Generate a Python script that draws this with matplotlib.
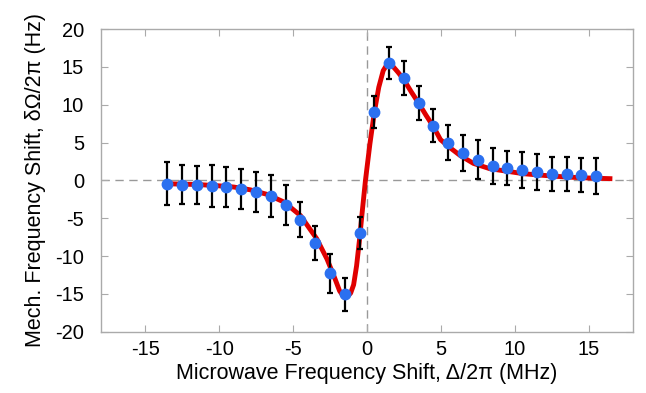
import matplotlib.pyplot as plt

plt.rcParams['font.family'] = ['Liberation Sans', 'DejaVu Sans']
plt.rcParams['axes.unicode_minus'] = False

# measured points
detuning = [-13.5, -12.5, -11.5, -10.5, -9.5, -8.5, -7.5, -6.5, -5.5, -4.5,
            -3.5, -2.5, -1.5, -0.5, 0.5, 1.5, 2.5, 3.5, 4.5, 5.5,
            6.5, 7.5, 8.5, 9.5, 10.5, 11.5, 12.5, 13.5, 14.5, 15.5]
shift = [-0.44, -0.57, -0.62, -0.75, -0.93, -1.15, -1.55, -2.1, -3.27, -5.2,
         -8.26, -12.3, -15.06, -7.0, 9.0, 15.5, 13.55, 10.24, 7.24, 5.0,
         3.63, 2.74, 1.95, 1.6, 1.33, 1.1, 0.84, 0.84, 0.7, 0.58]
shift_err = [2.83, 2.6, 2.54, 2.74, 2.65, 2.65, 2.65, 2.78, 2.65, 2.3,
             2.2, 2.6, 2.16, 2.1, 2.14, 2.1, 2.27, 2.3, 2.2, 2.3,
             2.4, 2.6, 2.37, 2.26, 2.37, 2.4, 2.3, 2.26, 2.26, 2.43]

# theory curve
fit_x = [-13.7, -12.0, -11.25, -10.0, -9.0, -7.9, -6.75, -5.6, -4.5, -3.4,
         -2.7, -2.2, -1.85, -1.55, -1.3, -1.1, -0.9, -0.7, -0.5, -0.3,
         -0.1, 0.2, 0.5, 0.8, 1.1, 1.4, 1.7, 2.1, 2.5, 3.0,
         3.5, 4.0, 4.5, 4.97, 5.5, 6.3, 7.2, 8.3, 9.5, 10.6,
         11.7, 12.85, 14.0, 15.1, 16.6]
fit_y = [-0.44, -0.52, -0.57, -0.72, -0.88, -1.24, -1.85, -2.87, -4.64, -7.7,
         -10.4, -12.8, -14.6, -15.45, -15.3, -14.9, -13.8, -11.3, -7.8, -3.8,
         0.0, 4.8, 9.0, 12.3, 14.5, 15.45, 15.2, 14.3, 13.3, 11.7,
         10.2, 8.6, 7.1, 5.4, 4.5, 3.3, 2.25, 1.55, 1.2, 0.88,
         0.7, 0.53, 0.4, 0.31, 0.22]


def plot_shift():
    fig = plt.figure(figsize=(6.46, 3.93), dpi=100)
    ax = fig.add_axes([0.156, 0.156, 0.824, 0.77])

    ax.axhline(0, color='#999999', lw=1, ls=(0, (6, 4)), zorder=1)
    ax.axvline(0, color='#999999', lw=1, ls=(0, (6, 4)), zorder=1)

    ax.plot(fit_x, fit_y, color='#e00000', lw=3.5, zorder=2,
            solid_joinstyle='round', solid_capstyle='butt')
    ax.errorbar(detuning, shift, yerr=shift_err, fmt='none', ecolor='black',
                elinewidth=1.6, capsize=2.5, capthick=1.6, zorder=3)
    ax.plot(detuning, shift, 'o', color='#2b70f0', ms=7.5, zorder=4)

    ax.set_xlim(-18, 18)
    ax.set_ylim(-20, 20)
    ax.set_xticks(range(-15, 16, 5))
    ax.set_yticks(range(-20, 21, 5))
    for s in ax.spines.values():
        s.set_color('#aaaaaa')
        s.set_linewidth(1)
    ax.tick_params(direction='in', length=5, color='#aaaaaa', labelsize=14.5,
                   top=True, right=True)
    ax.tick_params(axis='y', pad=12)
    ax.tick_params(axis='x', pad=6)
    ax.set_xlabel('Microwave Frequency Shift, Δ/2π (MHz)', fontsize=15.5,
                  labelpad=3)
    ax.set_ylabel('Mech. Frequency Shift, δΩ/2π (Hz)', fontsize=15.5,
                  labelpad=7)

    fig.savefig('out.png', dpi=100)


def main():
    plot_shift()


if __name__ == '__main__':
    main()
